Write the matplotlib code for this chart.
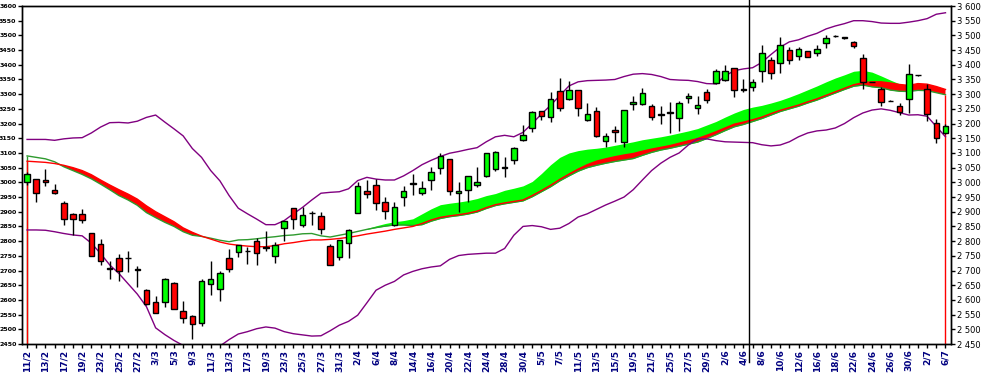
import numpy as np
import matplotlib.pyplot as plt

dates = ["11/2", "12/2", "13/2", "16/2", "17/2", "18/2", "19/2", "20/2", "23/2", "24/2",
         "25/2", "26/2", "27/2", "2/3", "3/3", "4/3", "5/3", "6/3", "9/3", "10/3",
         "11/3", "12/3", "13/3", "16/3", "17/3", "18/3", "19/3", "20/3", "23/3", "24/3",
         "25/3", "26/3", "27/3", "30/3", "31/3", "1/4", "2/4", "3/4", "6/4", "7/4",
         "8/4", "9/4", "14/4", "15/4", "16/4", "17/4", "20/4", "21/4", "22/4", "23/4",
         "24/4", "27/4", "28/4", "29/4", "30/4", "4/5", "5/5", "6/5", "7/5", "8/5",
         "11/5", "12/5", "13/5", "14/5", "15/5", "18/5", "19/5", "20/5", "21/5", "22/5",
         "25/5", "26/5", "27/5", "28/5", "29/5", "1/6", "2/6", "3/6", "4/6", "5/6",
         "8/6", "9/6", "10/6", "11/6", "12/6", "15/6", "16/6", "17/6", "18/6", "19/6",
         "22/6", "23/6", "24/6", "25/6", "26/6", "29/6", "30/6", "1/7", "2/7", "3/7",
         "6/7"]

opens = [3001, 3011, 3009, 2973, 2930, 2893, 2893, 2826, 2791, 2707,
         2743, 2744, 2704, 2635, 2594, 2593, 2658, 2563, 2544, 2523,
         2655, 2638, 2743, 2764, 2766, 2801, 2780, 2749, 2844, 2913,
         2855, 2897, 2887, 2785, 2747, 2794, 2896, 2971, 2991, 2933,
         2855, 2949, 2998, 2963, 3008, 3049, 3079, 2963, 2974, 2991,
         3021, 3044, 3051, 3075, 3145, 3184, 3243, 3223, 3310, 3282,
         3313, 3211, 3243, 3140, 3178, 3136, 3265, 3265, 3259, 3232,
         3238, 3218, 3286, 3252, 3306, 3339, 3349, 3388, 3316, 3323,
         3378, 3415, 3405, 3449, 3429, 3446, 3439, 3473, 3499, 3493,
         3476, 3422, 3342, 3316, 3278, 3261, 3282, 3365, 3316, 3201,
         3167]
highs = [3035, 3012, 3046, 2993, 2935, 2896, 2911, 2829, 2808, 2731,
         2757, 2768, 2714, 2638, 2612, 2673, 2661, 2595, 2550, 2672,
         2734, 2698, 2772, 2788, 2779, 2811, 2833, 2796, 2870, 2914,
         2917, 2902, 2900, 2791, 2805, 2840, 3000, 3009, 3011, 2949,
         2934, 2989, 3028, 3003, 3053, 3101, 3080, 3001, 3023, 3053,
         3101, 3108, 3085, 3121, 3195, 3243, 3244, 3306, 3355, 3345,
         3314, 3271, 3255, 3167, 3192, 3246, 3294, 3320, 3265, 3260,
         3274, 3277, 3303, 3294, 3318, 3387, 3399, 3389, 3352, 3352,
         3467, 3428, 3493, 3459, 3459, 3448, 3466, 3501, 3502, 3495,
         3480, 3437, 3343, 3325, 3279, 3269, 3403, 3366, 3333, 3216,
         3198]
lows = [2990, 2934, 2987, 2962, 2855, 2822, 2861, 2750, 2720, 2671,
        2666, 2695, 2644, 2583, 2554, 2576, 2570, 2522, 2468, 2511,
        2618, 2596, 2696, 2746, 2723, 2720, 2766, 2725, 2800, 2842,
        2847, 2856, 2825, 2719, 2737, 2742, 2895, 2947, 2906, 2876,
        2851, 2921, 2958, 2957, 2975, 3028, 2957, 2898, 2932, 2983,
        3018, 3040, 3017, 3064, 3142, 3170, 3211, 3206, 3244, 3280,
        3226, 3210, 3153, 3119, 3136, 3119, 3247, 3262, 3211, 3200,
        3169, 3175, 3269, 3234, 3269, 3336, 3346, 3291, 3308, 3312,
        3342, 3353, 3371, 3404, 3415, 3425, 3429, 3458, 3496, 3488,
        3458, 3318, 3340, 3260, 3276, 3229, 3237, 3363, 3210, 3133,
        3166]
closes = [3029, 2965, 3001, 2965, 2876, 2876, 2873, 2751, 2731, 2705,
          2699, 2741, 2703, 2585, 2557, 2672, 2570, 2537, 2519, 2663,
          2672, 2691, 2706, 2787, 2765, 2760, 2778, 2787, 2867, 2876,
          2889, 2895, 2842, 2720, 2804, 2839, 2989, 2960, 2930, 2903,
          2917, 2972, 2996, 2982, 3036, 3089, 2971, 2972, 3022, 3000,
          3100, 3102, 3049, 3116, 3160, 3239, 3227, 3282, 3252, 3313,
          3252, 3231, 3157, 3157, 3170, 3245, 3272, 3303, 3221, 3230,
          3236, 3269, 3293, 3262, 3279, 3378, 3378, 3313, 3314, 3341,
          3439, 3371, 3466, 3415, 3455, 3428, 3455, 3490, 3498, 3491,
          3464, 3343, 3341, 3275, 3277, 3238, 3367, 3364, 3233, 3152,
          3192]

bb_upper = [3146, 3146, 3146, 3143, 3148, 3151, 3152, 3168, 3188, 3203,
            3204, 3202, 3208, 3221, 3229, 3205, 3182, 3158, 3115, 3085,
            3040, 3005, 2955, 2912, 2893, 2875, 2856, 2856, 2870, 2893,
            2915, 2940, 2963, 2966, 2968, 2978, 3006, 3017, 3011, 3008,
            3008, 3022, 3040, 3060, 3075, 3088, 3099, 3105, 3112, 3118,
            3138, 3155, 3160, 3155, 3170, 3200, 3232, 3262, 3295, 3328,
            3342, 3346, 3347, 3348, 3350, 3360, 3368, 3370, 3367, 3360,
            3350, 3348, 3347, 3343, 3336, 3335, 3362, 3380, 3386, 3390,
            3408, 3435, 3460, 3478, 3485, 3497, 3507, 3522, 3532, 3540,
            3550, 3550, 3547, 3542, 3541, 3541, 3545, 3550, 3557, 3572,
            3577]
bb_lower = [2838, 2838, 2837, 2832, 2826, 2821, 2818, 2793, 2758, 2719,
            2690, 2655, 2620, 2577, 2505, 2482, 2462, 2445, 2430, 2425,
            2430, 2443, 2465, 2484, 2492, 2502, 2508, 2504, 2492, 2485,
            2481, 2477, 2478, 2495, 2514, 2527, 2548, 2590, 2633, 2650,
            2663, 2685, 2697, 2706, 2712, 2716, 2738, 2751, 2755, 2757,
            2759, 2759, 2775, 2820, 2850, 2853, 2849, 2840, 2844, 2860,
            2882, 2893, 2908, 2923, 2936, 2950, 2975, 3008, 3040, 3065,
            3085, 3100, 3127, 3148, 3148, 3142, 3138, 3137, 3136, 3135,
            3128, 3124, 3127, 3138, 3155, 3168, 3175, 3178, 3185, 3200,
            3220, 3236, 3246, 3250, 3245, 3237, 3229, 3230, 3225, 3190,
            3155]

ma_green = [3090, 3085, 3080, 3070, 3053, 3040, 3027, 3012, 2994, 2975,
            2955, 2940, 2922, 2897, 2880, 2864, 2850, 2832, 2820, 2816,
            2810, 2803, 2798, 2804, 2805, 2808, 2812, 2815, 2819, 2821,
            2825, 2826, 2818, 2814, 2820, 2826, 2833, 2840, 2846, 2851,
            2855, 2855, 2853, 2856, 2868, 2877, 2883, 2887, 2892, 2899,
            2911, 2921, 2927, 2932, 2937, 2951, 2968, 2985, 3005, 3022,
            3038, 3050, 3058, 3065, 3071, 3076, 3081, 3092, 3102, 3110,
            3116, 3123, 3130, 3137, 3149, 3162, 3176, 3189, 3197, 3207,
            3217, 3229, 3241, 3250, 3259, 3270, 3280, 3292, 3304, 3316,
            3327, 3331, 3325, 3322, 3314, 3310, 3309, 3313, 3312, 3305,
            3298]
ma_red = [3072, 3070, 3068, 3064, 3058, 3050, 3040, 3026, 3008, 2991,
          2975, 2960, 2943, 2920, 2900, 2883, 2866, 2845, 2830, 2817,
          2807, 2797, 2790, 2786, 2783, 2781, 2781, 2785, 2791, 2795,
          2800, 2804, 2804, 2806, 2809, 2813, 2818, 2824, 2829, 2834,
          2840, 2845, 2850, 2860, 2872, 2881, 2886, 2890, 2895, 2902,
          2914, 2924, 2930, 2935, 2940, 2955, 2972, 2990, 3010, 3028,
          3045, 3060, 3072, 3080, 3087, 3093, 3098, 3106, 3113, 3119,
          3125, 3133, 3141, 3149, 3160, 3172, 3185, 3198, 3205, 3213,
          3222, 3234, 3245, 3254, 3263, 3274, 3284, 3296, 3308, 3320,
          3332, 3339, 3342, 3342, 3338, 3333, 3330, 3336, 3334, 3326,
          3316]
ribbon_top = [None] * 37 + [
    2843, 2852, 2860, 2866, 2870, 2876, 2893, 2910, 2924, 2929,
    2933, 2938, 2945, 2955, 2962, 2973, 2980, 2988, 3003, 3030,
    3060, 3085, 3100, 3108, 3113, 3116, 3120, 3126, 3132, 3138,
    3145, 3150, 3155, 3161, 3168, 3175, 3183, 3195, 3207, 3222,
    3236, 3248, 3256, 3262, 3270, 3279, 3290, 3302, 3315, 3328,
    3342, 3355, 3366, 3378, 3381, 3375, 3362, 3348, 3335, 3328] + [None] * 4

x = np.arange(len(dates))
o = np.array(opens, float)
c = np.array(closes, float)
g = np.array(ma_green, float)
r = np.array(ma_red, float)
u = np.array([np.nan if v is None else v for v in ribbon_top], float)

fig = plt.figure(figsize=(9.86, 3.76), dpi=100)
ax = fig.add_axes([22 / 986, 1 - 344 / 376, 929 / 986, 338 / 376])

# ribbon between the averages
ax.fill_between(x, g, u, where=u > g, color="#00ff00", lw=0, interpolate=True, zorder=1)
ax.fill_between(x, g, r, where=r > g, color="#ff0000", lw=0, interpolate=True, zorder=1.1)
ax.plot(x, g, color="#2e9a2e", lw=1, zorder=1.2)
ax.plot(x, r, color="#ff0000", lw=1, zorder=1.3)
ax.vlines(x[0], 2450, g[0], color="#2e9a2e", lw=1, zorder=1.2)
ax.vlines(x[0], 2450, r[0], color="#ff0000", lw=1, zorder=1.3)
ax.vlines(x[-1], 2450, g[-1], color="#ff0000", lw=1, zorder=1.3)

# bollinger bands
ax.plot(x, bb_upper, color="#800080", lw=1, zorder=2)
ax.plot(x, bb_lower, color="#800080", lw=1, zorder=2)

# candles
cols = np.where(c >= o, "#00ff00", "#ff0000")
ax.vlines(x, lows, highs, color="black", lw=1, zorder=3)
body = np.maximum(np.abs(c - o), 0.5)
ax.bar(x, body, bottom=np.minimum(o, c), width=0.6, color=cols,
       edgecolor="black", linewidth=1, zorder=4)

ax.axvline(78.6, ymin=-0.053, ymax=1.02, color="black", lw=1, clip_on=False, zorder=5)

ax.set_xlim(-0.55, 100.6)
ax.set_ylim(2450, 3600)
yt = np.arange(2450, 3601, 50)
ax.set_yticks(yt)
ax.set_yticklabels([str(v) for v in yt], fontsize=4.5, fontweight="bold")
ax.set_xticks(x)
ax.set_xticklabels([d if i % 2 == 0 else "" for i, d in enumerate(dates)],
                   rotation=90, fontsize=6.5, fontweight="bold", color="#000080")
ax.tick_params(axis="x", length=3, width=1, pad=1)
ax.tick_params(axis="y", length=3, width=1, pad=1)

ax2 = ax.twinx()
ax2.set_ylim(2450, 3600)
ax2.set_yticks(yt)
ax2.set_yticklabels([f"{v // 1000} {v % 1000:03d}" for v in yt], fontsize=6)
ax2.tick_params(axis="y", length=3, width=1, pad=1)

for a in (ax, ax2):
    for s in a.spines.values():
        s.set_linewidth(1)

fig.savefig("out.png", dpi=100)
